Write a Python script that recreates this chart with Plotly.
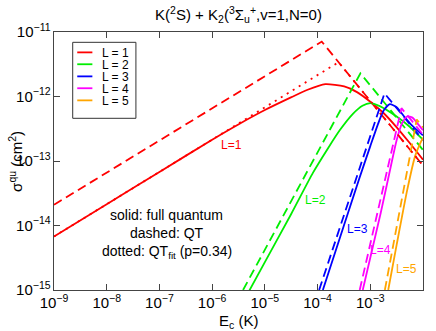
import plotly.graph_objects as go

# collision energy (K) and cross sections (cm^2)
red = "#ff0000"
green = "#00ee00"
blue = "#0000ff"
magenta = "#ff00ff"
orange = "#ffa500"

# L = 1
e1_solid = [1e-9, 1e-8, 1e-7, 1e-6, 3.2e-6, 1e-5, 3.2e-5, 6.3e-5, 1.4e-4, 3.2e-4, 5.6e-4, 1e-3, 1.8e-3, 3.2e-3, 5.6e-3, 1e-2]
s1_solid = [6.76e-15, 2.14e-14, 6.76e-14, 2.14e-13, 3.72e-13, 6.17e-13, 9.77e-13, 1.26e-12, 1.55e-12, 1.43e-12, 1.17e-12, 8.3e-13, 5.5e-13, 3.3e-13, 1.9e-13, 1.05e-13]
e1_qt = [1e-9, 1.2e-4, 1e-2]
s1_qt = [2.1e-14, 7.1e-12, 8.5e-14]
e1_fit = [1e-9, 2.5e-4, 1e-2]
s1_fit = [6.76e-15, 3.4e-12, 8.5e-14]

# L = 2
e2_solid = [4.47e-6, 1e-5, 3.16e-5, 8.2e-5, 1.58e-4, 2.63e-4, 4.68e-4, 7.1e-4, 1e-3, 1.51e-3, 3.16e-3, 5.6e-3, 1e-2]
s2_solid = [8.1e-16, 2.7e-15, 1.51e-14, 6.6e-14, 1.58e-13, 3.0e-13, 5.4e-13, 7.2e-13, 7.9e-13, 7.1e-13, 4.9e-13, 3.4e-13, 2.14e-13]
e2_qt = [3.86e-6, 6.5e-4, 1e-2]
s2_qt = [1e-15, 2.29e-12, 1.48e-13]

# L = 3
e3_solid = [1.26e-4, 3.16e-4, 6.3e-4, 1e-3, 1.41e-3, 1.78e-3, 2.34e-3, 3.16e-3, 4.47e-3, 6.3e-3, 1e-2]
s3_solid = [1e-15, 1e-14, 5.6e-14, 1.7e-13, 3.8e-13, 6.0e-13, 7.6e-13, 6.8e-13, 4.8e-13, 3.5e-13, 2.5e-13]
e3_qt = [1.07e-4, 1.86e-3, 1e-2]
s3_qt = [1e-15, 1.12e-12, 2.1e-13]

# L = 4
e4_solid = [7.2e-4, 1.58e-3, 2.5e-3, 3.16e-3, 3.98e-3, 5.0e-3, 6.3e-3, 7.9e-3, 1e-2]
s4_solid = [1e-15, 1.58e-14, 8.9e-14, 2.1e-13, 3.8e-13, 4.9e-13, 4.7e-13, 3.8e-13, 3.0e-13]
e4_qt = [6.3e-4, 3.9e-3, 1e-2]
s4_qt = [1e-15, 6.6e-13, 2.57e-13]

# L = 5
e5_solid = [2.19e-3, 3.16e-3, 5.0e-3, 7.1e-3, 8.9e-3, 1e-2]
s5_solid = [1e-15, 5e-15, 3.5e-14, 1.2e-13, 1.9e-13, 2.3e-13]
e5_qt = [1.89e-3, 7.6e-3, 1e-2]
s5_qt = [1e-15, 4.4e-13, 3.3e-13]

series = [
    ("L = 1", red, e1_solid, s1_solid, e1_qt, s1_qt),
    ("L = 2", green, e2_solid, s2_solid, e2_qt, s2_qt),
    ("L = 3", blue, e3_solid, s3_solid, e3_qt, s3_qt),
    ("L = 4", magenta, e4_solid, s4_solid, e4_qt, s4_qt),
    ("L = 5", orange, e5_solid, s5_solid, e5_qt, s5_qt),
]
# curve labels (log10 E, log10 sigma)
label_x = [-5.63, -4.035, -3.24, -2.80, -2.31]
label_y = [-12.75, -13.6, -14.05, -14.38, -14.67]

fig = go.Figure()
for name, col, es, ss, eq, sq in series:
    fig.add_trace(go.Scatter(x=es, y=ss, mode="lines", line=dict(color=col, width=1.8, shape="spline", smoothing=0.6), showlegend=False))
    fig.add_trace(go.Scatter(x=eq, y=sq, mode="lines", line=dict(color=col, width=1.8, dash="9px,5px"), showlegend=False))
fig.add_trace(go.Scatter(x=e1_fit, y=s1_fit, mode="lines", line=dict(color=red, width=1.8, dash="2px,5px"), showlegend=False))

for i, (name, col, *_ ) in enumerate(series):
    fig.add_annotation(x=label_x[i], y=label_y[i], text="L=" + name[-1], showarrow=False, font=dict(color=col, size=12))

# hand-drawn legend box like the original
fig.add_shape(type="rect", xref="paper", yref="paper", x0=0.0507, x1=0.222, y0=0.6655, y1=0.960, line=dict(color="#333333", width=1), fillcolor="white")
rows = [0.921, 0.875, 0.828, 0.782, 0.735]
for i, (name, col, *_ ) in enumerate(series):
    fig.add_shape(type="line", xref="paper", yref="paper", x0=0.063, x1=0.104, y0=rows[i], y1=rows[i], line=dict(color=col, width=1.8))
    fig.add_annotation(xref="paper", yref="paper", x=0.1247, y=rows[i], xanchor="left", yanchor="middle", text=name,
                       showarrow=False, font=dict(size=12), height=11, valign="middle")

for t, yy in [("solid: full quantum", 0.252), ("dashed: QT", 0.181), ("dotted: QT<sub>fit</sub> (p=0.34)", 0.1035)]:
    fig.add_annotation(xref="paper", yref="paper", x=0.305, y=yy, xanchor="center", text=t, showarrow=False, font=dict(size=14))

# axis titles
fig.add_annotation(xref="paper", yref="paper", x=0.5, y=-0.123, yanchor="middle", text="E<sub>c</sub> (K)", showarrow=False, font=dict(size=15))
fig.add_annotation(xref="paper", yref="paper", x=-0.106, y=0.5, xanchor="center", textangle=-90, text="σ<sup>qu</sup> (cm<sup>2</sup>)", showarrow=False, font=dict(size=15))

axis = dict(type="log", dtick=1, exponentformat="power", showgrid=False, zeroline=False, automargin=False,
            showline=True, linecolor="#444444", linewidth=1, mirror="ticks", ticks="inside",
            ticklen=6, tickcolor="#444444", tickfont=dict(size=12, color="black"))
fig.update_xaxes(axis, range=[-9, -2])
fig.update_yaxes(axis, range=[-15, -11])

fig.update_layout(
    width=436, height=331,
    margin=dict(l=54, r=13, t=32, b=41, autoexpand=False),
    paper_bgcolor="white", plot_bgcolor="white",
    font=dict(family="Liberation Sans, Arial, sans-serif", color="black"),
    title=dict(text="K(<sup>2</sup>S) + K<sub>2</sub>(<sup>3</sup>Σ<sub>u</sub><sup>+</sup>,v=1,N=0)",
               x=0.5, xref="paper", xanchor="center", y=0.955, yanchor="middle", font=dict(size=15)),
    showlegend=False,
)

fig.write_html("out.html", config={"displayModeBar": False}, post_script="document.body.style.margin='0px';")
